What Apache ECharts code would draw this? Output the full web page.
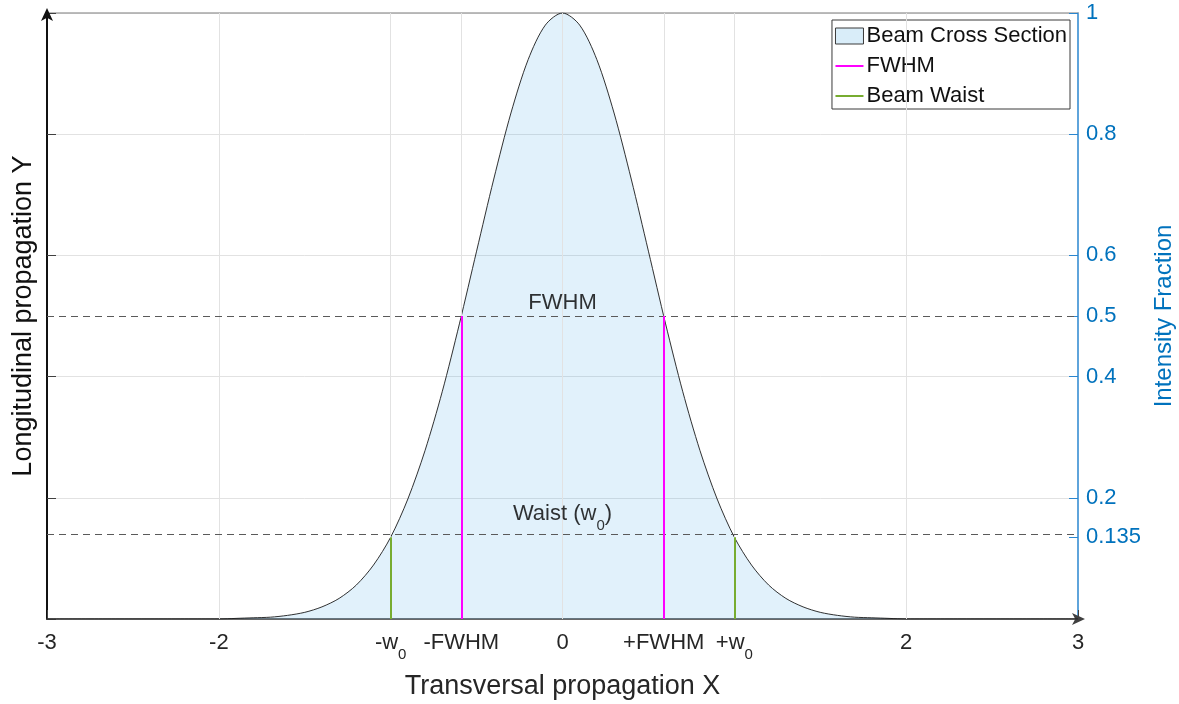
<!DOCTYPE html>
<html>
<head>
<meta charset="utf-8">
<script src="https://cdn.jsdelivr.net/npm/echarts@6/dist/echarts.min.js"></script>
<style>
  html, body { margin: 0; padding: 0; background: #fff; }
  #chart { width: 1179px; height: 704px; }
</style>
</head>
<body>
<div id="chart"></div>
<script>
// Transverse positions and the beam's relative intensity at each position
const positionX = [-3.0, -2.9, -2.8, -2.7, -2.6, -2.5, -2.4, -2.3, -2.2, -2.1,
  -2.0, -1.9, -1.8, -1.7, -1.6, -1.5, -1.4, -1.3, -1.2, -1.1,
  -1.0, -0.9, -0.8, -0.7, -0.6, -0.5, -0.4, -0.3, -0.2, -0.1,
  0.0, 0.1, 0.2, 0.3, 0.4, 0.5, 0.6, 0.7, 0.8, 0.9,
  1.0, 1.1, 1.2, 1.3, 1.4, 1.5, 1.6, 1.7, 1.8, 1.9,
  2.0, 2.1, 2.2, 2.3, 2.4, 2.5, 2.6, 2.7, 2.8, 2.9, 3.0];
const intensity = [0, 0, 0, 0, 0, 0, 0, 0, 0, 0,
  0.000, 0.001, 0.002, 0.003, 0.006, 0.011, 0.020, 0.034, 0.056, 0.089,
  0.135, 0.198, 0.278, 0.375, 0.487, 0.607, 0.726, 0.835, 0.923, 0.980,
  1.000, 0.980, 0.923, 0.835, 0.726, 0.607, 0.487, 0.375, 0.278, 0.198,
  0.135, 0.089, 0.056, 0.034, 0.020, 0.011, 0.006, 0.003, 0.002, 0.001,
  0.000, 0, 0, 0, 0, 0, 0, 0, 0, 0, 0];

// Marker positions: half maximum and beam waist (1/e^2)
const fwhmX = [-0.589, 0.589];
const fwhmLevel = 0.5;
const waistX = [-1, 1];
const waistLevel = 0.135;

// Bottom axis ticks and their labels
const xTickValues = [-3, -2, -1, -0.589, 0, 0.589, 1, 2, 3];
const xTickLabels = ['-3', '-2', '-w{s|0}', '-FWHM', '0', '+FWHM', '+w{s|0}', '2', '3'];
const xGridValues = [-2, -1, -0.589, 0, 0.589, 1, 2];

// Right axis ticks
const rightTickValues = [0.135, 0.2, 0.4, 0.5, 0.6, 0.8, 1];
const rightTickLabels = ['0.135', '0.2', '0.4', '0.5', '0.6', '0.8', '1'];

const FONT = 'Liberation Sans, Arial, Helvetica, sans-serif';
const TEXT = '#262626';
const BLUE = '#0072BD';
const GRID = '#e2e2e2';
const MAGENTA = '#FF00FF';
const GREEN = '#77AC30';

const curve = positionX.map((x, i) => [x, intensity[i]]);

// A legend-only line series whose vertical segments are drawn as mark lines
function markerSeries(name, xs, top, color) {
  return {
    name: name, type: 'line', data: [], symbol: 'none', z: 6, animation: false,
    lineStyle: { color: color, width: 2 }, itemStyle: { color: color },
    markLine: {
      silent: true, symbol: 'none', label: { show: false }, animation: false,
      lineStyle: { color: color, width: 2, type: 'solid' },
      data: xs.map(x => [{ coord: [x, 0] }, { coord: [x, top] }])
    }
  };
}

const series = [
  {
    name: 'Beam Cross Section', type: 'line', data: curve, smooth: 0.3,
    symbol: 'none', z: 3, animation: false,
    lineStyle: { color: '#1a1a1a', width: 0.9 },
    itemStyle: { color: '#d9edf9', borderColor: '#1a1a1a' },
    areaStyle: { color: 'rgba(55,158,228,0.21)' }
  },
  // vertical grid lines at the labelled x positions
  {
    name: 'grid', type: 'line', data: [], symbol: 'none', silent: true, z: 1,
    animation: false,
    markLine: {
      silent: true, symbol: 'none', label: { show: false }, animation: false,
      lineStyle: { color: GRID, width: 1, type: 'solid' },
      data: xGridValues.map(v => ({ xAxis: v }))
    }
  },
  // dashed reference levels
  {
    name: 'levels', type: 'line', data: [], symbol: 'none', silent: true, z: 5,
    animation: false,
    markLine: {
      silent: true, symbol: 'none', label: { show: false }, animation: false,
      lineStyle: { color: '#5a5a5a', width: 1.2, type: [7, 5] },
      data: [{ yAxis: fwhmLevel }, { yAxis: waistLevel }]
    }
  },
  markerSeries('FWHM', fwhmX, fwhmLevel, MAGENTA),
  markerSeries('Beam Waist', waistX, waistLevel, GREEN),
  // text annotations above the reference levels
  {
    name: 'notes', type: 'scatter', symbolSize: 0, z: 7, silent: true,
    animation: false,
    data: [
      { value: [0, fwhmLevel], label: { formatter: 'FWHM', lineHeight: 26, distance: 0 } },
      { value: [0, waistLevel], label: { formatter: 'Waist (w{s|0})', lineHeight: 38, distance: 4 } }
    ],
    label: {
      show: true, position: 'top', color: '#000', fontFamily: FONT, fontSize: 22,
      rich: { s: { fontSize: 15, fontFamily: FONT, color: '#000', verticalAlign: 'bottom', lineHeight: 15 } }
    }
  }
];

const chart = echarts.init(document.getElementById('chart'), null, { renderer: 'canvas' });
chart.setOption({
  backgroundColor: '#fff',
  animation: false,
  grid: { left: 47, right: 101, top: 13, bottom: 85, containLabel: false, outerBoundsMode: 'none' },
  legend: {
    data: [
      { name: 'Beam Cross Section', icon: 'rect',
        itemStyle: { color: '#d9edf9', borderColor: '#3a3a3a', borderWidth: 1 } },
      { name: 'FWHM', icon: 'path://M0,13L28,13L28,15L0,15Z', itemStyle: { color: MAGENTA } },
      { name: 'Beam Waist', icon: 'path://M0,13L28,13L28,15L0,15Z', itemStyle: { color: GREEN } }
    ],
    orient: 'vertical', right: 109, top: 20, itemGap: 8,
    itemWidth: 28, itemHeight: 16, padding: [5, 3, 2, 3],
    backgroundColor: '#fff', borderColor: '#3a3a3a', borderWidth: 1,
    textStyle: { color: '#111', fontFamily: FONT, fontSize: 22, padding: [0, 0, 0, -2] },
    selectedMode: false
  },
  xAxis: [
    {
      type: 'value', min: -3, max: 3, position: 'bottom',
      name: 'Transversal propagation X', nameLocation: 'middle', nameGap: 54,
      nameTextStyle: { color: TEXT, fontFamily: FONT, fontSize: 27 },
      axisLine: { show: true, onZero: false, lineStyle: { color: '#404040', width: 1.5 },
        symbol: ['none', 'arrow'], symbolSize: [9, 13], symbolOffset: [0, 7] },
      axisTick: { show: true, inside: true, length: 9, customValues: xTickValues,
        lineStyle: { color: '#404040', width: 1 } },
      axisLabel: {
        customValues: xTickValues, margin: 5, color: TEXT, fontFamily: FONT, fontSize: 22,
        lineHeight: 38,
        formatter: v => {
          const i = xTickValues.findIndex(t => Math.abs(t - v) < 1e-6);
          return i >= 0 ? xTickLabels[i] : '';
        },
        rich: { s: { fontSize: 15, fontFamily: FONT, color: TEXT, verticalAlign: 'bottom', lineHeight: 15 } }
      },
      splitLine: { show: false }
    },
    {
      type: 'value', min: -3, max: 3, position: 'top',
      axisLine: { show: true, onZero: false, lineStyle: { color: '#a6a6a6', width: 1.5 } },
      axisTick: { show: false }, axisLabel: { show: false }, splitLine: { show: false }
    }
  ],
  yAxis: [
    {
      type: 'value', min: 0, max: 1, interval: 0.2, position: 'left',
      name: 'Longitudinal propagation Y', nameLocation: 'middle', nameGap: 10,
      nameTextStyle: { color: '#111', fontFamily: FONT, fontSize: 27 },
      axisLine: { show: true, onZero: false, lineStyle: { color: '#111', width: 2 },
        symbol: ['none', 'arrow'], symbolSize: [9, 13], symbolOffset: [0, 5] },
      axisTick: { show: true, inside: true, length: 9, lineStyle: { color: '#404040' } },
      axisLabel: { show: false },
      splitLine: { show: true, lineStyle: { color: GRID, width: 1 } }
    },
    {
      type: 'value', min: 0, max: 1, position: 'right',
      name: 'Intensity Fraction', nameLocation: 'middle', nameGap: 69,
      nameTextStyle: { color: BLUE, fontFamily: FONT, fontSize: 24 },
      axisLine: { show: true, onZero: false, lineStyle: { color: '#2a86cf', width: 1.5 } },
      axisTick: { show: true, inside: true, length: 9, customValues: rightTickValues,
        lineStyle: { color: '#2a86cf' } },
      axisLabel: {
        customValues: rightTickValues, margin: 8, color: BLUE, fontFamily: FONT, fontSize: 22,
        formatter: v => {
          const i = rightTickValues.findIndex(t => Math.abs(t - v) < 1e-6);
          return i >= 0 ? rightTickLabels[i] : '';
        }
      },
      splitLine: { show: false }
    }
  ],
  series: series
});
</script>
</body>
</html>
